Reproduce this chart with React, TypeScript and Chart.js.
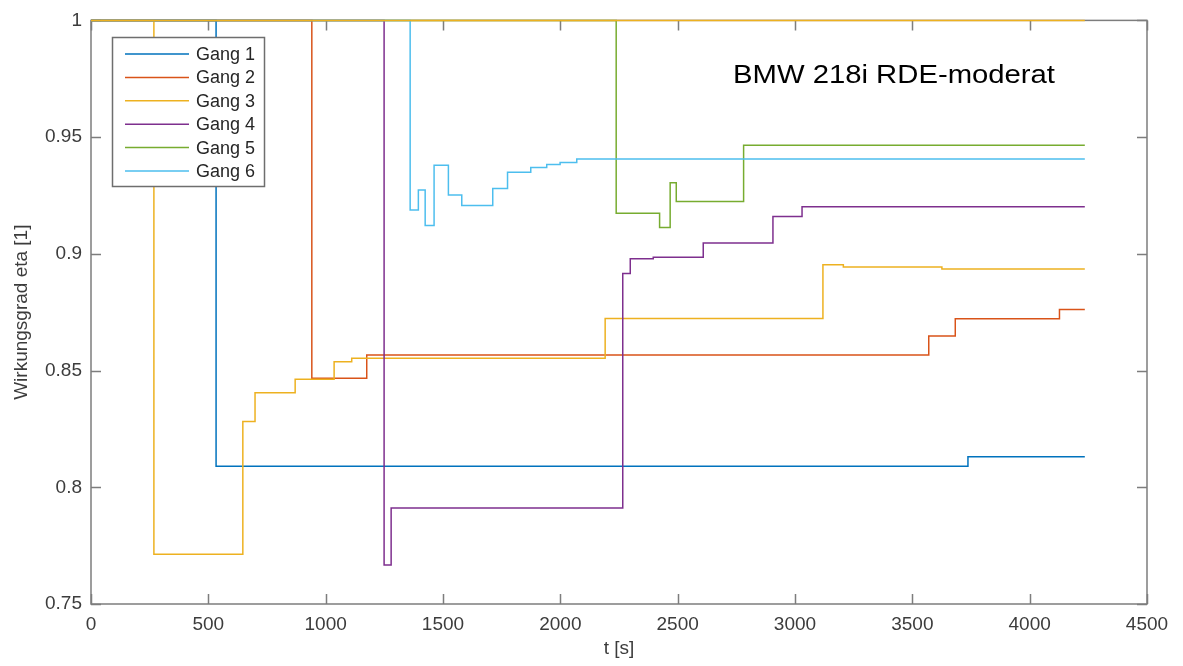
import { useEffect, useRef } from "react";
import { Chart, registerables } from "chart.js";

Chart.register(...registerables);

// Wirkungsgrad je Gang über der Zeit (Treppenverläufe, jeder Wert gilt bis zum nächsten Zeitpunkt)
const gearLabels = ["Gang 1", "Gang 2", "Gang 3", "Gang 4", "Gang 5", "Gang 6"];
const gearColors = ["#0072BD", "#D95319", "#EDB120", "#7E2F8E", "#77AC30", "#4DBEEE"];

const gang1T = [0, 533, 3737, 4235];
const gang1Eta = [1, 0.809, 0.8131, 0.8131];

const gang2T = [0, 941, 1175, 3570, 3683, 4127, 4235];
const gang2Eta = [1, 0.8467, 0.8567, 0.8648, 0.8722, 0.8762, 0.8762];

const gang3T = [0, 268, 647, 699, 870, 1036, 1111, 2191, 3119, 3206, 3626, 4235];
const gang3Eta = [1, 0.7713, 0.8282, 0.8405, 0.8463, 0.8538, 0.8553, 0.8723, 0.8953, 0.8944, 0.8935, 0.8935];

const gang4T = [0, 1249, 1279, 2266, 2298, 2396, 2609, 2906, 3030, 4235];
const gang4Eta = [1, 0.7667, 0.7911, 0.8916, 0.8979, 0.8985, 0.9046, 0.916, 0.9202, 0.9202];

const gang5T = [0, 2238, 2423, 2468, 2494, 2781, 4235];
const gang5Eta = [1, 0.9174, 0.9113, 0.9305, 0.9224, 0.9465, 0.9465];

const gang6T = [0, 1360, 1395, 1424, 1462, 1523, 1580, 1712, 1775, 1874, 1942, 1999, 2070, 4235];
const gang6Eta = [1, 0.9188, 0.9273, 0.9121, 0.938, 0.9252, 0.9207, 0.928, 0.9349, 0.937, 0.9383, 0.9391, 0.9406, 0.9406];

// Obergrenze eta = 1 über die gesamte Messdauer
const upperT = [0, 4235];
const upperEta = [1, 1];

const xMin = 0;
const xMax = 4500;
const xStep = 500;
const yMin = 0.75;
const yMax = 1;
const yStep = 0.05;

const annotationText = "BMW 218i RDE-moderat";
const xTitle = "t [s]";
const yTitle = "Wirkungsgrad eta [1]";

const FONT = '"Liberation Sans", Arial, Helvetica, sans-serif';
const AXIS_COLOR = "#7d7d7d";
const TEXT_COLOR = "#3c3c3c";

const toPoints = (t: number[], eta: number[]) => t.map((v, i) => ({ x: v, y: eta[i] }));

const gearSeries = [
  toPoints(gang1T, gang1Eta),
  toPoints(gang2T, gang2Eta),
  toPoints(gang3T, gang3Eta),
  toPoints(gang4T, gang4Eta),
  toPoints(gang5T, gang5Eta),
  toPoints(gang6T, gang6Eta),
];

const framePlugin = {
  id: "matlabFrame",
  beforeDatasetsDraw(chart: any) {
    const { ctx, chartArea, scales } = chart;
    const { left, right, top, bottom } = chartArea;
    const xs = scales.x;
    const ys = scales.y;
    const tickLen = 10;
    ctx.save();
    ctx.strokeStyle = AXIS_COLOR;
    ctx.lineWidth = 1.5;
    ctx.strokeRect(left, top, right - left, bottom - top);
    ctx.beginPath();
    xs.ticks.forEach((t: any) => {
      const px = Math.round(xs.getPixelForValue(t.value)) + 0.5;
      ctx.moveTo(px, bottom);
      ctx.lineTo(px, bottom - tickLen);
      ctx.moveTo(px, top);
      ctx.lineTo(px, top + tickLen);
    });
    ys.ticks.forEach((t: any) => {
      const py = Math.round(ys.getPixelForValue(t.value)) + 0.5;
      ctx.moveTo(left, py);
      ctx.lineTo(left + tickLen, py);
      ctx.moveTo(right, py);
      ctx.lineTo(right - tickLen, py);
    });
    ctx.stroke();

    // Achsentitel
    ctx.fillStyle = TEXT_COLOR;
    ctx.font = `19px ${FONT}`;
    ctx.textAlign = "center";
    ctx.textBaseline = "middle";
    ctx.fillText(xTitle, (left + right) / 2, bottom + 45);
    ctx.translate(22, (top + bottom) / 2);
    ctx.rotate(-Math.PI / 2);
    ctx.fillText(yTitle, 0, 0);
    ctx.restore();
  },
  afterDatasetsDraw(chart: any) {
    const { ctx } = chart;
    ctx.save();
    // Legende oben links im Diagramm
    const bx = 112.5;
    const by = 37.5;
    const bw = 152;
    const bh = 149;
    ctx.fillStyle = "#ffffff";
    ctx.fillRect(bx, by, bw, bh);
    ctx.strokeStyle = "#6e6e6e";
    ctx.lineWidth = 1.5;
    ctx.strokeRect(bx, by, bw, bh);
    ctx.font = `18px ${FONT}`;
    ctx.textAlign = "left";
    ctx.textBaseline = "middle";
    gearLabels.forEach((label, i) => {
      const ry = 54 + i * 23.4;
      ctx.strokeStyle = gearColors[i];
      ctx.lineWidth = 1.5;
      ctx.beginPath();
      ctx.moveTo(125, ry);
      ctx.lineTo(189, ry);
      ctx.stroke();
      ctx.fillStyle = "#262626";
      ctx.fillText(label, 196, ry + 1);
    });

    // Fahrzeug- und Zyklusbezeichnung
    ctx.font = `25px ${FONT}`;
    ctx.fillStyle = "#000000";
    ctx.textBaseline = "alphabetic";
    const w = ctx.measureText(annotationText).width;
    const targetW = 322;
    ctx.translate(733, 83);
    ctx.scale(targetW / w, 1);
    ctx.fillText(annotationText, 0, 0);
    ctx.restore();
  },
};

export default function App() {
  const canvasRef = useRef<HTMLCanvasElement | null>(null);

  useEffect(() => {
    if (!canvasRef.current) return;
    const datasets: any[] = gearSeries.map((pts, i) => ({
      label: gearLabels[i],
      data: pts,
      borderColor: gearColors[i],
      backgroundColor: gearColors[i],
      borderWidth: 1.5,
      pointRadius: 0,
      stepped: true,
      fill: false,
      clip: 4,
      order: 10 - i,
    }));
    datasets.push({
      label: "eta = 1",
      data: toPoints(upperT, upperEta),
      borderColor: "#EDB120",
      backgroundColor: "#EDB120",
      borderWidth: 1.5,
      pointRadius: 0,
      stepped: true,
      fill: false,
      clip: 4,
      order: 0,
    });

    const chart = new Chart(canvasRef.current, {
      type: "line",
      data: { datasets },
      options: {
        animation: false,
        responsive: false,
        maintainAspectRatio: false,
        layout: { padding: { top: 18, right: 36, left: 0, bottom: 0 } },
        plugins: {
          legend: { display: false },
          tooltip: { enabled: false },
          title: { display: false },
        },
        scales: {
          x: {
            type: "linear",
            min: xMin,
            max: xMax,
            grid: { display: false, drawTicks: false },
            border: { display: false },
            ticks: {
              stepSize: xStep,
              padding: 9,
              color: TEXT_COLOR,
              font: { family: FONT, size: 19 },
              maxRotation: 0,
              callback: (v: any) => String(Math.round(Number(v))),
            },
            afterFit: (scale: any) => {
              scale.height = 62;
            },
          },
          y: {
            type: "linear",
            min: yMin,
            max: yMax,
            grid: { display: false, drawTicks: false },
            border: { display: false },
            ticks: {
              stepSize: yStep,
              padding: 9,
              color: TEXT_COLOR,
              font: { family: FONT, size: 19 },
              callback: (v: any) => String(Number(Number(v).toFixed(2))),
            },
            afterFit: (scale: any) => {
              scale.width = 91;
            },
          },
        },
      },
      plugins: [framePlugin],
    });
    return () => chart.destroy();
  }, []);

  return (
    <div style={{ position: "fixed", left: 0, top: 0, width: 1183, height: 666, background: "#fff" }}>
      <canvas ref={canvasRef} width={1183} height={666} style={{ width: 1183, height: 666 }} />
    </div>
  );
}
